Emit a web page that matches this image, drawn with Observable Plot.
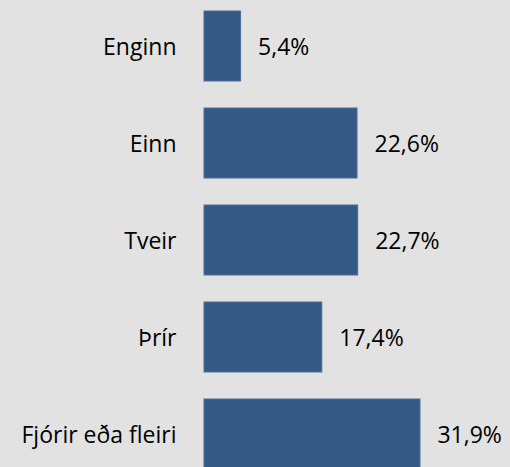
<!DOCTYPE html>
<html>
<head>
<meta charset="utf-8">
<script src="https://cdn.jsdelivr.net/npm/d3@7"></script>
<script src="https://cdn.jsdelivr.net/npm/@observablehq/plot@0.6"></script>
<style>
  html, body { margin: 0; padding: 0; background: #e2e2e2; overflow: hidden; }
  #chart svg { display: block; }
  #chart svg text { font-family: 'Open Sans', sans-serif; }
</style>
</head>
<body>
<div id="chart"></div>
<script>
const categories = ["Enginn", "Einn", "Tveir", "Þrír", "Fjórir eða fleiri"];
const values = [5.4, 22.6, 22.7, 17.4, 31.9];

const data = categories.map((c, i) => ({ category: c, value: values[i] }));
const fmt = v => v.toFixed(1).replace(".", ",") + "%";

const chart = Plot.plot({
  width: 510,
  height: 467,
  marginTop: 0, marginBottom: 0, marginLeft: 0, marginRight: 0,
  style: { background: "#e2e2e2", fontFamily: "'Open Sans', sans-serif", fontSize: "19px", color: "#000" },
  x: { domain: [0, 40], range: [204, 204 + 40 * 6.77], axis: null },
  y: { domain: categories, range: [-18.4, 497.6], padding: 0.28, axis: null },
  marks: [
    Plot.barX(data, { x: "value", y: "category", fill: "#345985", stroke: "#4d6f98", strokeWidth: 1 }),
    Plot.text(data, { x: 0, y: "category", text: "category", textAnchor: "end", dx: -28, dy: 1, fill: "#000", fontSize: 23 }),
    Plot.text(data, { x: "value", y: "category", text: d => fmt(d.value), textAnchor: "start", dx: 17, dy: 1.5, fill: "#000", fontSize: 23 })
  ]
});
document.getElementById("chart").appendChild(chart);
</script>
</body>
</html>
